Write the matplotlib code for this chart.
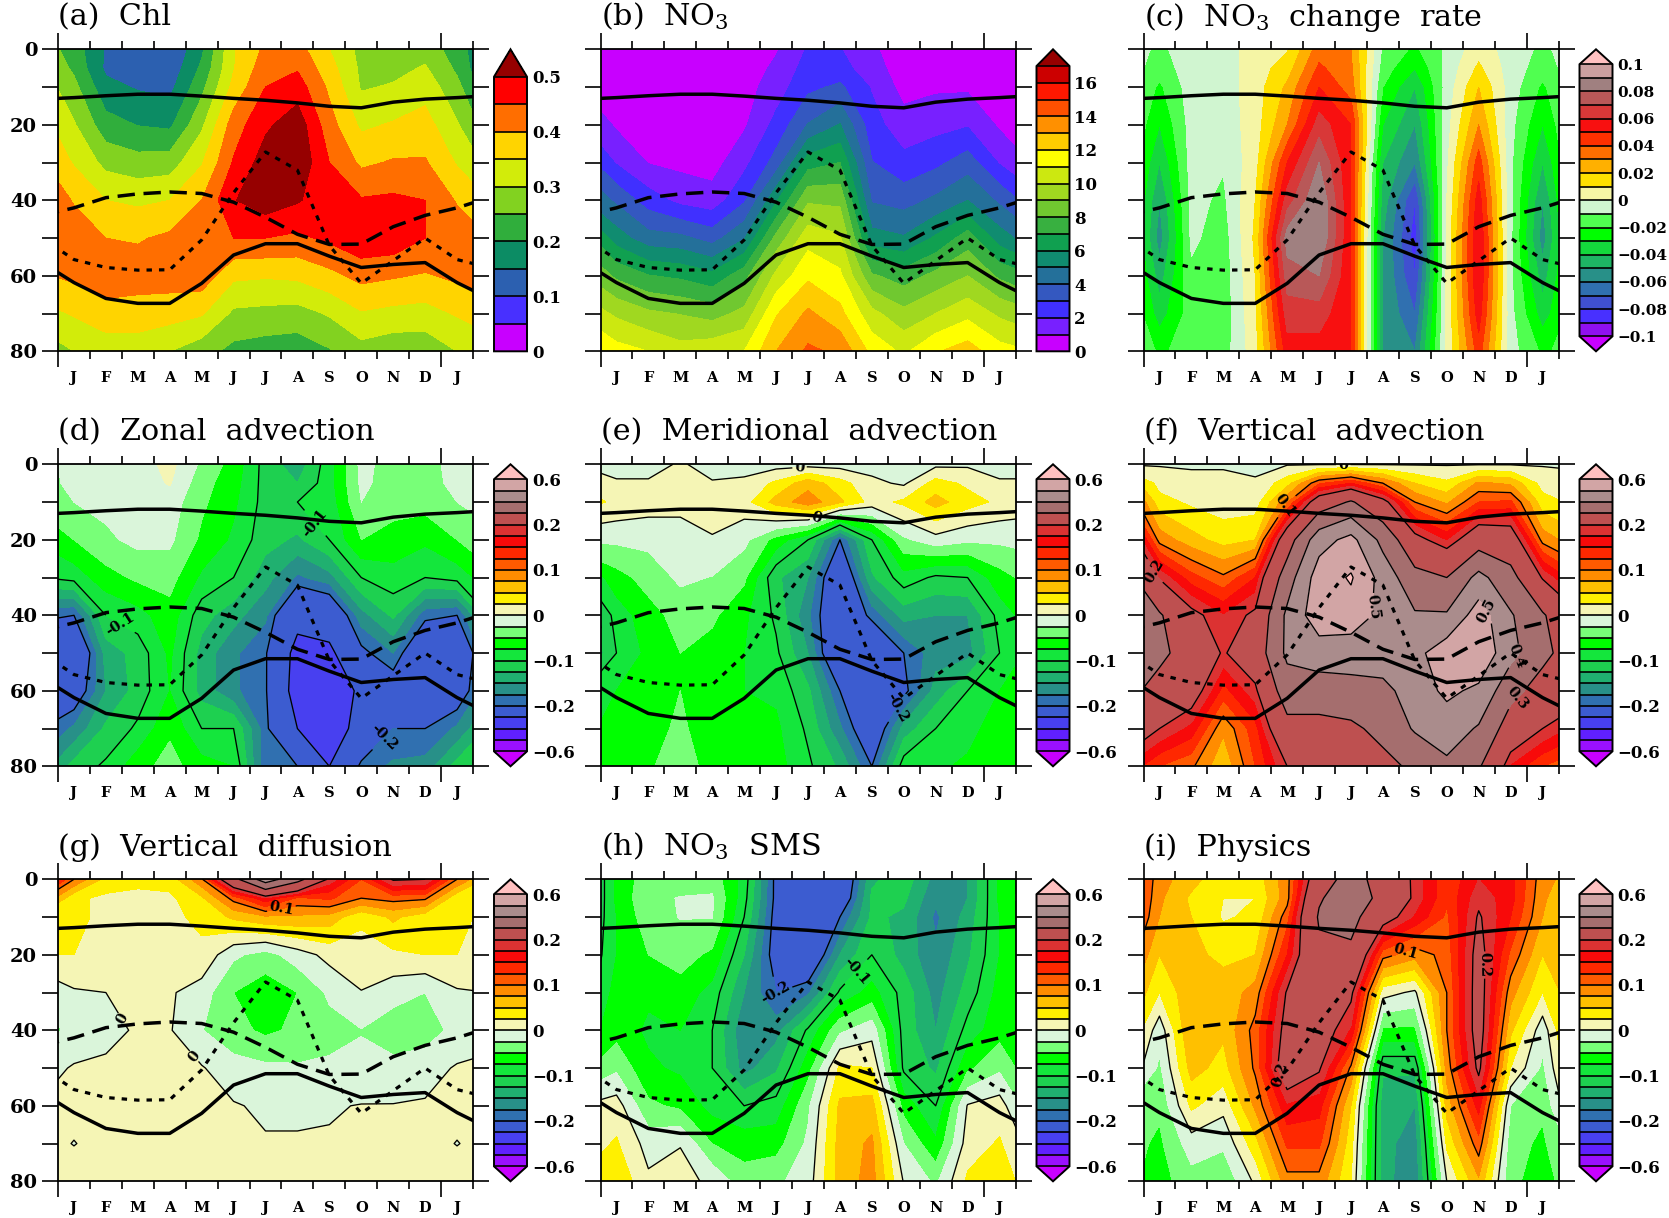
import numpy as np
import matplotlib
matplotlib.use("Agg")
import matplotlib.pyplot as plt
from matplotlib.ticker import FixedLocator

plt.rcParams["mathtext.fontset"] = "dejavuserif"
plt.rcParams["font.family"] = "DejaVu Serif"

PX_W, PX_H = 1669, 1218

depth = [0, 5, 10, 20, 30, 40, 50, 60, 70, 80]
month_pos = [0.5, 1.5, 2.5, 3.5, 4.5, 5.5, 6.5, 7.5, 8.5, 9.5, 10.5, 11.5]
month_labels = ["J", "F", "M", "A", "M", "J", "J", "A", "S", "O", "N", "D", "J"]

# monthly lines, January to December
upper_solid = [12.8, 12.3, 11.9, 11.9, 12.4, 13.0, 13.5, 14.2, 15.1, 15.5, 14.0, 13.2]
lower_solid = [61.8, 66.0, 67.3, 67.3, 62.0, 54.5, 51.5, 51.5, 54.8, 57.8, 57.0, 56.5]
long_dash = [42.0, 39.3, 38.3, 37.8, 38.2, 40.5, 44.5, 49.0, 51.7, 51.6, 47.0, 44.0]
short_dash = [55.7, 57.8, 58.5, 58.4, 50.5, 38.0, 27.2, 32.0, 52.0, 62.0, 56.0, 50.0]

# every panel: one list per month, one value per depth
chl = [
    [.225, .24, .265, .305, .345, .395, .43, .41, .355, .30],
    [.145, .14, .165, .22, .285, .35, .40, .43, .38, .32],
    [.11, .12, .145, .198, .27, .34, .395, .425, .375, .325],
    [.10, .115, .135, .19, .275, .35, .41, .425, .37, .30],
    [.19, .21, .235, .29, .345, .40, .445, .43, .355, .27],
    [.345, .347, .365, .425, .455, .497, .45, .36, .29, .235],
    [.41, .43, .45, .49, .525, .53, .45, .355, .285, .225],
    [.42, .445, .475, .53, .54, .505, .44, .36, .28, .22],
    [.35, .37, .39, .42, .45, .47, .46, .385, .305, .245],
    [.285, .29, .295, .34, .39, .455, .49, .415, .345, .28],
    [.275, .285, .305, .355, .405, .46, .485, .405, .335, .265],
    [.28, .305, .33, .37, .405, .45, .45, .395, .33, .265],
]
no3 = [
    [.4, .4, .5, .85, 1.9, 3.8, 5.5, 7.8, 9.8, 11.4],
    [.3, .3, .4, .6, .95, 2.5, 4.4, 7.05, 9.2, 11.0],
    [.3, .3, .4, .6, .75, 1.7, 4.25, 6.8, 8.95, 10.4],
    [.3, .3, .4, .5, .6, 1.4, 3.6, 6.3, 8.6, 10.7],
    [.4, .45, .6, .85, 1.7, 2.85, 4.9, 7.6, 9.3, 11.0],
    [.9, 1.2, 1.5, 2.3, 3.4, 5.85, 8.3, 10.25, 11.9, 13.0],
    [2.1, 2.4, 2.75, 4.05, 6.55, 8.85, 10.6, 11.8, 13.2, 14.2],
    [2.05, 2.35, 3.2, 5.05, 7.0, 8.75, 10.15, 11.2, 12.3, 13.8],
    [1.2, 1.45, 1.9, 2.4, 3.05, 3.9, 5.4, 8.15, 10.3, 11.7],
    [.3, .45, .65, 1.4, 2.3, 3.6, 5.1, 7.5, 9.3, 10.8],
    [.3, .5, .85, 1.65, 2.75, 4.2, 6.15, 8.3, 10.0, 11.9],
    [.3, .45, .85, 1.9, 3.5, 5.0, 7.5, 9.0, 10.7, 12.5],
]
no3_rate = [
    [-.012, -.015, -.022, -.03, -.04, -.05, -.055, -.045, -.035, -.022],
    [-.005, -.005, -.005, -.006, -.006, -.007, -.008, -.012, -.015, -.015],
    [-.005, -.005, -.005, -.006, -.009, -.012, -.015, -.016, -.016, -.015],
    [.005, .005, .005, .005, .006, .01, .012, .01, .008, .006],
    [.009, .015, .022, .03, .05, .065, .085, .075, .065, .055],
    [.035, .042, .05, .065, .08, .09, .09, .08, .065, .055],
    [.03, .032, .035, .05, .05, .05, .05, .05, .05, .05],
    [-.012, -.015, -.02, -.03, -.04, -.045, -.05, -.05, -.05, -.05],
    [-.022, -.03, -.04, -.05, -.06, -.08, -.085, -.08, -.07, -.06],
    [-.008, -.007, -.006, -.004, -.002, .0, .002, .002, .002, .002],
    [.006, .012, .02, .03, .045, .055, .06, .06, .055, .045],
    [-.005, -.005, -.005, -.007, -.008, -.008, -.008, -.008, -.007, -.006],
]
zonal = [
    [-.015, -.018, -.025, -.05, -.09, -.2, -.26, -.23, -.17, -.115],
    [-.012, -.014, -.018, -.03, -.06, -.1, -.14, -.15, -.12, -.095],
    [-.012, -.012, -.012, -.018, -.045, -.085, -.115, -.115, -.095, -.06],
    [.008, .002, -.012, -.02, -.04, -.06, -.07, -.075, -.055, -.04],
    [-.03, -.04, -.045, -.055, -.08, -.115, -.135, -.135, -.1, -.065],
    [-.06, -.065, -.07, -.08, -.1, -.14, -.17, -.17, -.1, -.075],
    [-.11, -.11, -.11, -.115, -.14, -.17, -.195, -.195, -.19, -.195],
    [-.14, -.125, -.1, -.13, -.18, -.27, -.33, -.34, -.3, -.2],
    [-.085, -.085, -.09, -.1, -.16, -.25, -.32, -.37, -.36, -.3],
    [-.018, -.02, -.025, -.05, -.1, -.16, -.21, -.28, -.26, -.19],
    [-.035, -.035, -.04, -.06, -.085, -.12, -.175, -.23, -.2, -.17],
    [-.035, -.035, -.04, -.07, -.1, -.19, -.26, -.27, -.2, -.165],
]
meridional = [
    [-.01, .003, .02, -.02, -.06, -.09, -.1, -.075, -.06, -.055],
    [-.01, .003, .012, -.018, -.04, -.06, -.068, -.065, -.06, -.055],
    [.003, .008, .01, -.015, -.02, -.04, -.05, -.05, -.045, -.03],
    [-.01, .002, .012, -.002, -.026, -.045, -.06, -.065, -.065, -.065],
    [-.01, .005, .015, -.018, -.045, -.07, -.075, -.075, -.07, -.065],
    [-.01, .03, .06, -.06, -.12, -.105, -.095, -.08, -.07, -.065],
    [-.01, .065, .09, -.1, -.15, -.17, -.15, -.12, -.105, -.095],
    [-.01, .035, .055, -.2, -.25, -.25, -.26, -.2, -.17, -.13],
    [-.01, .006, .015, -.1, -.13, -.19, -.26, -.26, -.24, -.2],
    [-.012, -.004, .03, -.03, -.085, -.14, -.2, -.21, -.14, -.085],
    [-.006, .035, .06, -.01, -.105, -.15, -.16, -.14, -.1, -.08],
    [-.004, .02, .035, -.02, -.1, -.15, -.16, -.1, -.085, -.07],
]
vertical = [
    [-.002, .015, .035, .09, .195, .31, .325, .26, .2, .125],
    [-.002, .005, .02, .06, .135, .215, .25, .23, .165, .105],
    [-.002, .005, .012, .04, .105, .175, .195, .14, .08, .055],
    [-.004, .002, .012, .05, .15, .21, .24, .19, .14, .125],
    [-.002, .04, .095, .25, .35, .42, .42, .35, .27, .2],
    [-.002, .12, .24, .46, .55, .56, .45, .35, .27, .22],
    [-.002, .15, .31, .53, .61, .56, .44, .37, .28, .23],
    [-.002, .1, .22, .37, .46, .47, .46, .37, .33, .27],
    [-.002, .05, .1, .22, .33, .41, .47, .45, .41, .32],
    [-.002, .03, .07, .17, .3, .41, .56, .52, .45, .38],
    [-.002, .08, .125, .25, .43, .55, .58, .48, .39, .31],
    [-.002, .07, .13, .24, .33, .41, .43, .33, .25, .17],
]
diffusion = [
    [.1, .03, .03, .025, -.003, -.015, .002, .002, -.0002, .003],
    [.04, .02, .02, .015, .0, -.005, .003, .002, .002, .003],
    [.03, .02, .02, .012, .002, .002, .003, .002, .002, .003],
    [.035, .02, .02, .012, .003, .002, .003, .002, .002, .003],
    [.095, .045, .03, .02, -.012, -.024, .002, .002, .002, .003],
    [.27, .11, .055, -.02, -.05, -.042, -.015, .002, .002, .003],
    [.45, .17, .07, -.035, -.065, -.055, -.02, -.004, .002, .003],
    [.33, .12, .07, -.012, -.05, -.045, -.022, -.004, .002, .003],
    [.19, .13, .065, .008, -.02, -.035, -.02, -.002, .002, .003],
    [.125, .1, .03, .015, -.001, -.026, -.02, .001, .002, .003],
    [.205, .11, .055, .02, -.015, -.04, -.017, .001, .002, .003],
    [.2, .105, .035, .025, -.025, -.04, -.008, .002, .002, .003],
]
sms = [
    [-.07, -.07, -.075, -.075, -.065, -.06, -.03, .012, .028, .045],
    [-.035, -.03, -.035, -.05, -.07, -.08, -.07, -.045, -.01, .005],
    [-.035, -.024, -.024, -.04, -.06, -.075, -.08, -.055, -.001, .008],
    [-.035, -.022, -.024, -.055, -.085, -.1, -.1, -.085, -.05, -.005],
    [-.085, -.09, -.1, -.125, -.15, -.17, -.16, -.1, -.06, -.04],
    [-.21, -.21, -.215, -.22, -.2, -.16, -.13, -.09, -.06, -.03],
    [-.27, -.27, -.26, -.25, -.18, -.095, -.06, -.03, -.02, -.012],
    [-.25, -.24, -.2, -.15, -.095, -.03, .03, .055, .06, .06],
    [-.13, -.12, -.12, -.1, -.065, -.01, .025, .06, .08, .085],
    [-.11, -.12, -.13, -.135, -.11, -.11, -.105, -.06, -.025, -.002],
    [-.16, -.17, -.18, -.17, -.16, -.15, -.13, -.1, -.07, -.03],
    [-.15, -.15, -.14, -.13, -.115, -.09, -.055, .002, .012, .03],
]
physics = [
    [.085, .08, .075, .05, .025, -.015, -.03, -.045, -.055, -.06],
    [.06, .045, .05, .055, .07, .075, .06, .03, -.012, -.035],
    [.03, .025, .022, .045, .06, .055, .04, .008, -.02, -.045],
    [.035, .025, .03, .05, .085, .11, .105, .08, .04, .005],
    [.09, .09, .115, .15, .205, .22, .24, .17, .13, .09],
    [.25, .29, .31, .28, .25, .23, .205, .16, .13, .09],
    [.34, .36, .33, .28, .21, .17, .095, .05, .035, .026],
    [.26, .27, .225, .11, .01, -.055, -.12, -.14, -.14, -.14],
    [.19, .19, .17, .085, -.005, -.055, -.12, -.15, -.165, -.17],
    [.13, .13, .12, .11, .1, .1, .085, .06, .03, .0],
    [.175, .19, .205, .22, .225, .225, .21, .16, .115, .07],
    [.16, .16, .15, .12, .085, .055, .025, -.025, -.04, -.045],
]

chl_levels = [0, .05, .1, .15, .2, .25, .3, .35, .4, .45, .5]
chl_colors = ["#C800FF", "#4830FF", "#2C60B0", "#0C8C64", "#30AE3C", "#82D220",
              "#D2EC0A", "#FFD400", "#FF6E00", "#FF0000", "#960000"]
no3_levels = list(range(18))
no3_colors = ["#C800FF", "#7820FF", "#4030FF", "#3458C0", "#24709A", "#108C70",
              "#10A050", "#38B040", "#70C830", "#A0D820", "#CCE810", "#FFFF00",
              "#FFCC00", "#FF9000", "#FF5000", "#FF1800", "#CC0000", "#960000"]
rate_levels = [i / 100 for i in range(-10, 11)]
rate_colors = ["#C800FF", "#9010F0", "#4830FF", "#4050D0", "#3070B0", "#289088",
               "#1EB464", "#14D83C", "#00FF00", "#50FF50", "#D0F5D0",
               "#F5F5A5", "#FFE000", "#FFB000", "#FF6E00", "#FF3000", "#F81010",
               "#D83838", "#B85858", "#A08080", "#CCA0A0", "#FFC0C0"]
tend_levels = [-.6, -.5, -.4, -.3, -.2, -.175, -.15, -.125, -.1, -.075, -.05, -.025,
               0, .025, .05, .075, .1, .125, .15, .175, .2, .3, .4, .5, .6]
tend_colors = ["#C800FF", "#9A10FF", "#6020FF", "#4840F0", "#3C5CD0", "#3070B0",
               "#289088", "#20B070", "#1ED050", "#14E63C", "#00FF00", "#78FF78", "#DAF5DA",
               "#F5F5B5", "#FFF000", "#FFC000", "#FF8C00", "#FF5A00", "#FF2800", "#F80A0A",
               "#DC3232", "#BE5050", "#A56E6E", "#AA8C8C", "#D2A5A5", "#FFC0C0"]

chl_ticks = ([0, .1, .2, .3, .4, .5], ["0", "0.1", "0.2", "0.3", "0.4", "0.5"])
no3_ticks = (list(range(0, 17, 2)), [str(v) for v in range(0, 17, 2)])
rate_ticks = ([-.1, -.08, -.06, -.04, -.02, 0, .02, .04, .06, .08, .1],
              ["\u22120.1", "\u22120.08", "\u22120.06", "\u22120.04", "\u22120.02", "0",
               "0.02", "0.04", "0.06", "0.08", "0.1"])
tend_ticks = ([-.6, -.2, -.1, 0, .1, .2, .6],
              ["\u22120.6", "\u22120.2", "\u22120.1", "0", "0.1", "0.2", "0.6"])

panels = [
    ("(a)  Chl", chl, chl_levels, chl_colors, "max", chl_ticks, 0.1, None, []),
    ("(b)  NO$_3$", no3, no3_levels, no3_colors, "max", no3_ticks, 1 / 17, None, []),
    ("(c)  NO$_3$  change  rate", no3_rate, rate_levels, rate_colors, "both", rate_ticks, 0.055, None, []),
    ("(d)  Zonal  advection", zonal, tend_levels, tend_colors, "both", tend_ticks, 0.055,
     [-.3, -.2, -.1], [(7.9, 16.5), (2.05, 41), (10.3, 73)]),
    ("(e)  Meridional  advection", meridional, tend_levels, tend_colors, "both", tend_ticks, 0.055,
     [-.2, -.1, 0], [(6.25, 2.4), (6.7, 12.3), (8.94, 63)]),
    ("(f)  Vertical  advection", vertical, tend_levels, tend_colors, "both", tend_ticks, 0.055,
     [0, .1, .2, .3, .4, .5, .6],
     [(6.26, .9), (4.52, 11.3), (.2, 28.9), (7.2, 37.7), (10.8, 38.6), (11.7, 50.9), (11.64, 61.5)]),
    ("(g)  Vertical  diffusion", diffusion, tend_levels, tend_colors, "both", tend_ticks, 0.055,
     [0, .1, .2, .3, .4], [(7.0, 7.9), (2.53, 34.7), (4.45, 45.7)]),
    ("(h)  NO$_3$  SMS", sms, tend_levels, tend_colors, "both", tend_ticks, 0.055,
     [-.2, -.1, 0], [(5.39, 31.1), (8.07, 24.9)]),
    ("(i)  Physics", physics, tend_levels, tend_colors, "both", tend_ticks, 0.055,
     [-.1, 0, .1, .2, .3], [(8.16, 17.9), (4.34, 51.5), (10.6, 22.7)]),
]

col_left = [58, 600.5, 1143.5]
row_top = [49.3, 464.3, 879.3]
AX_W, AX_H = 415, 302
CB_OFF, CB_W = 436, 33


def px_axes(fig, left, top, width, height):
    return fig.add_axes([left / PX_W, 1 - (top + height) / PX_H, width / PX_W, height / PX_H])


def wrap_year(values):
    # the year is cyclic: Dec before January, Jan and Feb after December
    arr = np.asarray(values, dtype=float)
    return np.concatenate([arr[-1:], arr, arr[:2]], axis=0)


x_nodes = np.concatenate([[month_pos[0] - 1], month_pos, [month_pos[-1] + 1, month_pos[-1] + 2]])

fig = plt.figure(figsize=(PX_W / 100, PX_H / 100), dpi=100, facecolor="white")

for i, (title, grid, levels, colors, extend, ticks, efrac, line_levels, label_at) in enumerate(panels):
    left = col_left[i % 3]
    top = row_top[i // 3]
    ax = px_axes(fig, left, top, AX_W, AX_H)
    z = wrap_year(grid).T

    cf = ax.contourf(x_nodes, depth, z, levels=levels, colors=colors, extend=extend)
    if line_levels:
        cs = ax.contour(x_nodes, depth, z, levels=line_levels, colors="black",
                        linewidths=0.95, linestyles="solid")
        if label_at:
            texts = ax.clabel(cs, manual=label_at, fmt="%g", fontsize=10.5, inline=True, inline_spacing=2)
            for t in texts:
                t.set_fontweight("bold")

    ax.plot(x_nodes, wrap_year(upper_solid), color="black", lw=2.5, solid_joinstyle="round")
    ax.plot(x_nodes, wrap_year(lower_solid), color="black", lw=2.5, solid_joinstyle="round")
    ax.plot(x_nodes, wrap_year(long_dash), color="black", lw=2.5, linestyle=(0, (5, 2.5)))
    ax.plot(x_nodes, wrap_year(short_dash), color="black", lw=2.3, linestyle=(0, (1.7, 2.2)))

    ax.set_xlim(0, 13)
    ax.set_ylim(80, 0)
    ax.set_title(title, loc="left", fontsize=21.8, pad=17, x=0.0)

    ax.xaxis.set_major_locator(FixedLocator([0, 12]))
    ax.xaxis.set_minor_locator(FixedLocator(list(range(1, 12)) + [13]))
    ax.set_xticklabels([])
    ax.yaxis.set_major_locator(FixedLocator([0, 20, 40, 60, 80]))
    ax.yaxis.set_minor_locator(FixedLocator([10, 30, 50, 70]))
    ax.tick_params(axis="x", which="major", direction="out", length=11.5, width=1.2, top=True, bottom=True)
    ax.tick_params(axis="x", which="minor", direction="out", length=5.8, width=1.2, top=True, bottom=True)
    ax.tick_params(axis="y", which="both", direction="out", length=11.5, width=1.2, left=True, right=True)
    if i % 3 == 0:
        ax.set_yticklabels(["0", "20", "40", "60", "80"], fontsize=14, fontweight="bold")
    else:
        ax.set_yticklabels([])
    for spine in ax.spines.values():
        spine.set_linewidth(1.3)
    for m, lab in zip(np.arange(13) + 0.5, month_labels):
        ax.text(m, -0.09, lab, transform=ax.get_xaxis_transform(), ha="center", va="center",
                fontsize=10.5, fontweight="bold")

    # the extension triangles are drawn inside this axes
    cax = px_axes(fig, left + CB_OFF, top, CB_W, AX_H)
    cb = fig.colorbar(cf, cax=cax, orientation="vertical", spacing="uniform", drawedges=True,
                      extendfrac=efrac, ticks=ticks[0])
    cb.set_ticklabels(ticks[1])
    cb.minorticks_off()
    cb.ax.tick_params(length=0, pad=3.5, labelsize=11 if title.startswith("(c)") else 12)
    for lab in cb.ax.get_yticklabels():
        lab.set_fontweight("bold")
    cb.outline.set_linewidth(1.4)
    cb.dividers.set_linewidth(1.2)

fig.savefig("out.png", dpi=100, facecolor="white")
